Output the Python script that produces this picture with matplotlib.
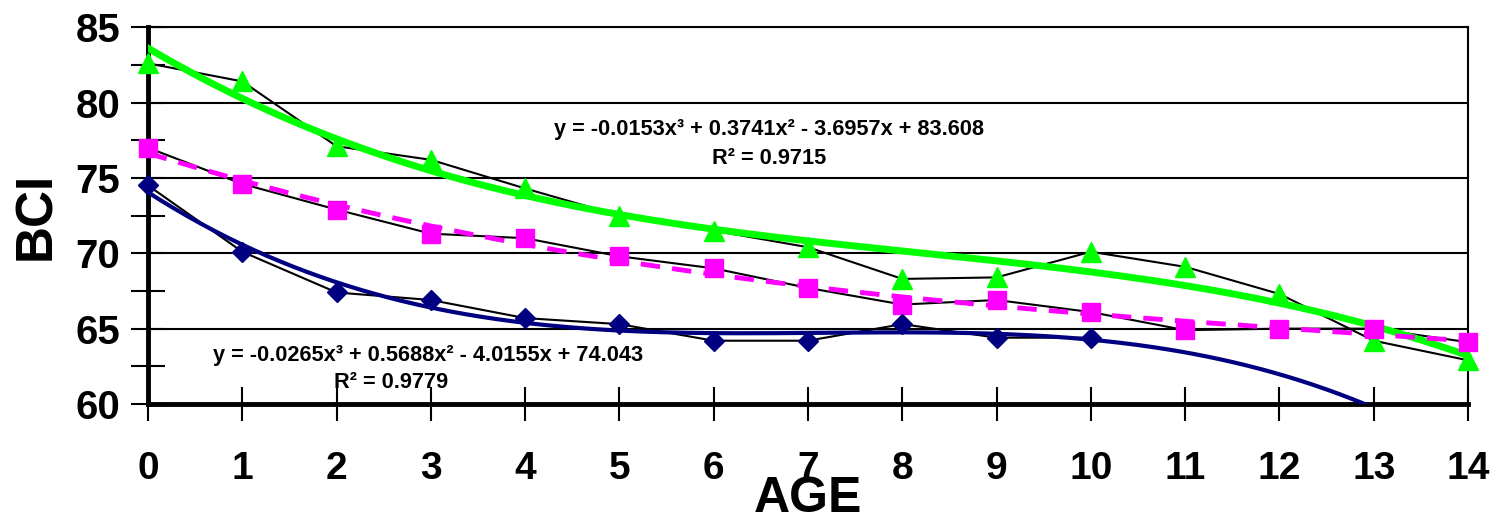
import numpy as np
import matplotlib.pyplot as plt
from matplotlib.ticker import MultipleLocator

plt.rcParams['font.family'] = ['Liberation Sans', 'DejaVu Sans']
plt.rcParams['font.weight'] = 'bold'

# data
age = np.arange(0, 15)
green_bci = [82.6, 81.4, 77.1, 76.2, 74.3, 72.5, 71.5, 70.4, 68.3, 68.4, 70.1, 69.1, 67.3, 64.2, 62.9]
pink_bci = [77.0, 74.6, 72.9, 71.3, 71.0, 69.8, 69.0, 67.7, 66.6, 66.9, 66.1, 64.9, 65.0, 65.0, 64.1]
navy_age = np.arange(0, 11)
navy_bci = [74.5, 70.1, 67.4, 66.9, 65.7, 65.3, 64.2, 64.2, 65.3, 64.4, 64.4]

# trend line coefficients printed on the chart
green_coef = [-0.0153, 0.3741, -3.6957, 83.608]
navy_coef = [-0.0265, 0.5688, -4.0155, 74.043]
pink_coef = np.polyfit(age, pink_bci, 3)

fig = plt.figure(figsize=(14.98, 5.22), dpi=100)
ax = fig.add_axes([0.0988, 0.226, 0.8812, 0.722])

xs = np.linspace(0, 14, 300)

# connecting lines (thin black)
ax.plot(age, green_bci, color='black', lw=1.5, zorder=3)
ax.plot(age, pink_bci, color='black', lw=1.5, zorder=3)
ax.plot(navy_age, navy_bci, color='black', lw=1.5, zorder=3)

# trend lines
ax.plot(xs, np.polyval(green_coef, xs), color='#00ff00', lw=5, zorder=4)
ax.plot(xs, np.polyval(pink_coef, xs), color='#ff00ff', lw=3.5, ls=(0, (4, 2.5)), zorder=4)
ax.plot(xs, np.polyval(navy_coef, xs), color='#000080', lw=3, zorder=4)

# markers
ax.plot(age, green_bci, ls='none', marker='^', ms=14, color='#00ff00', clip_on=False, zorder=5)
ax.plot(age, pink_bci, ls='none', marker='s', ms=13, color='#ff00ff', clip_on=False, zorder=5)
ax.plot(navy_age, navy_bci, ls='none', marker='D', ms=10, color='#000080', clip_on=False, zorder=5)

ax.set_xlim(0, 14)
ax.set_ylim(60, 85)
ax.xaxis.set_major_locator(MultipleLocator(1))
ax.yaxis.set_major_locator(MultipleLocator(5))
ax.yaxis.set_minor_locator(MultipleLocator(2.5))
ax.grid(axis='y', which='major', color='black', lw=1.5, zorder=1)

ax.tick_params(axis='x', which='major', direction='inout', length=24, width=1.5, pad=22, labelsize=28)
ax.tick_params(axis='y', which='both', direction='inout', length=24, width=1.5, pad=8, labelsize=29)

for side in ['left', 'bottom']:
    ax.spines[side].set_linewidth(3.5)
ax.spines['right'].set_linewidth(1.5)
ax.spines['top'].set_linewidth(1.5)

ax.set_xlabel('AGE', fontsize=36, fontweight='bold', labelpad=-8)
ax.set_ylabel('BCI', fontsize=37, fontweight='bold', labelpad=10)

eq_style = dict(ha='center', va='center', fontsize=15.7, fontweight='bold')
ax.text(6.59, 78.2, 'y = -0.0153x³ + 0.3741x² - 3.6957x + 83.608', **eq_style)
ax.text(6.59, 76.3, 'R² = 0.9715', **eq_style)
ax.text(2.97, 63.25, 'y = -0.0265x³ + 0.5688x² - 4.0155x + 74.043', **eq_style)
ax.text(2.58, 61.4, 'R² = 0.9779', **eq_style)

fig.savefig('out.png', dpi=100)
